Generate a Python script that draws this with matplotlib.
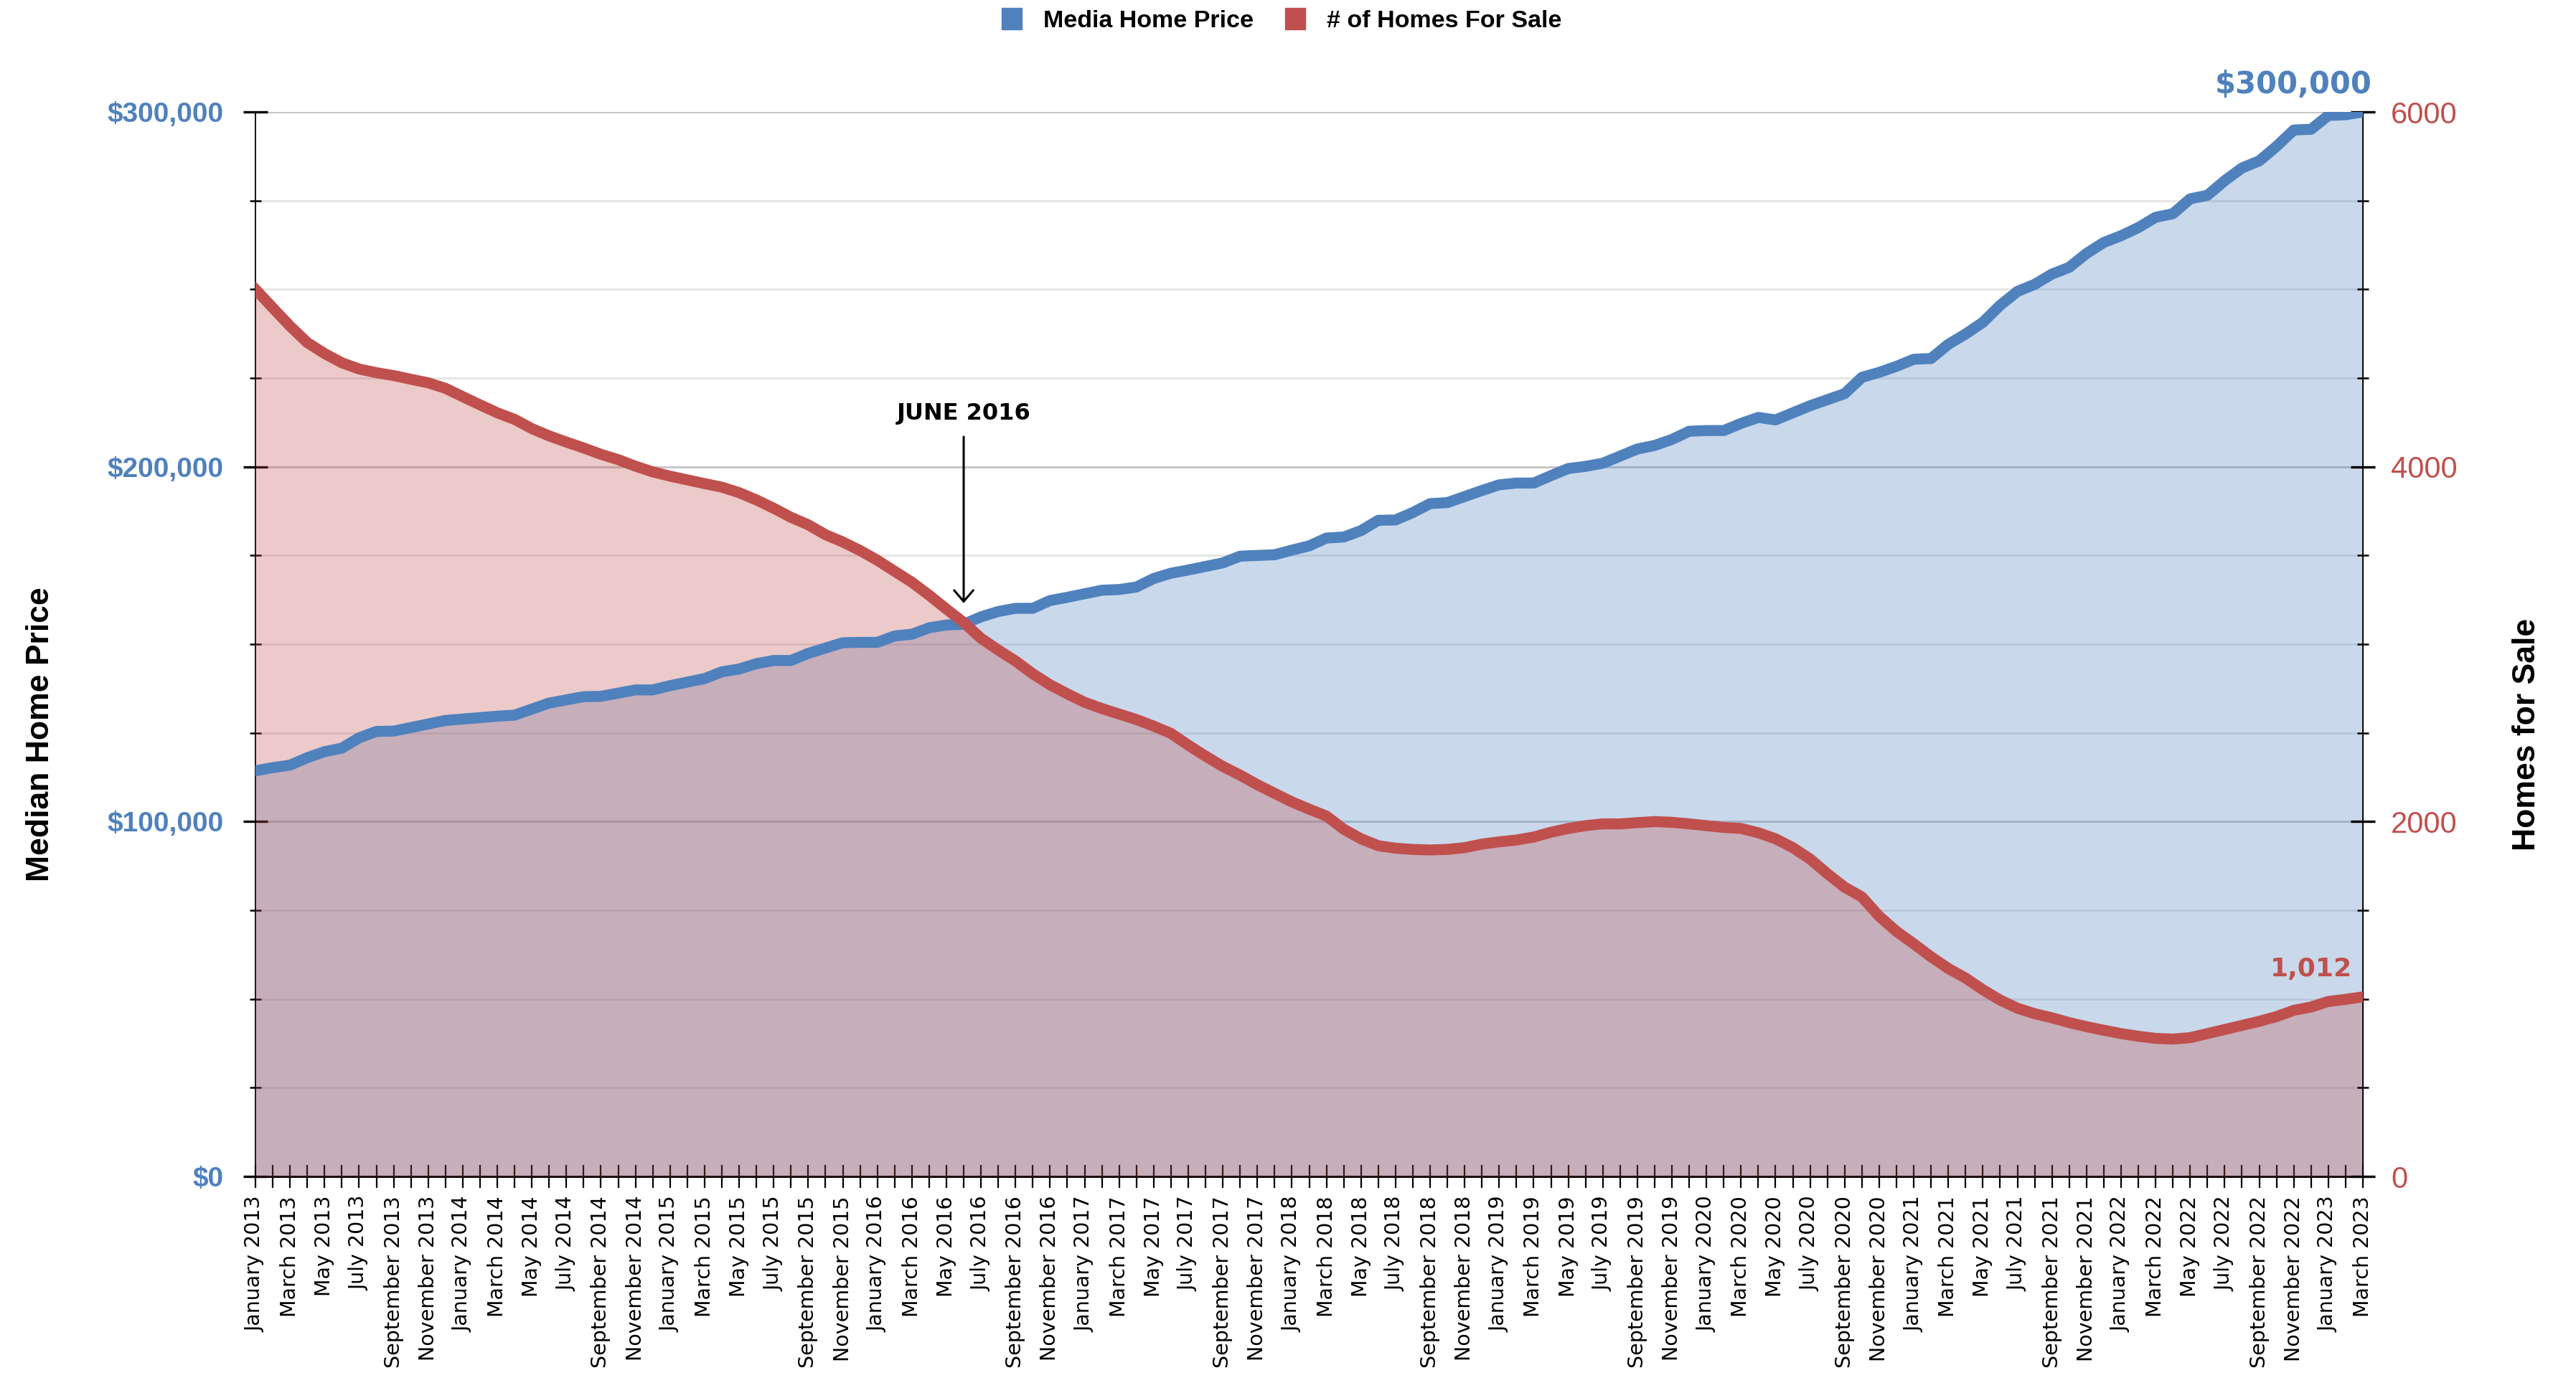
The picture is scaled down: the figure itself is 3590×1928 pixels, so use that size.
import numpy as np
import pandas as pd
import matplotlib
matplotlib.use('Agg')
import matplotlib.pyplot as plt
from matplotlib.patches import Patch
from matplotlib.ticker import MultipleLocator

# monthly data, January 2013 - March 2023
months = pd.date_range('2013-01-01', '2023-03-01', freq='MS')
month_labels = [d.strftime('%B %Y') for d in months]

price = [114300, 115200, 115900, 118000, 119700, 120700, 123600, 125400, 125500, 126500,
         127500, 128500, 128900, 129300, 129700, 130000, 131700, 133400, 134300, 135200,
         135300, 136200, 137100, 137100, 138300, 139300, 140300, 142200, 143000, 144500,
         145400, 145400,
         147400, 148900, 150400, 150500, 150500, 152300, 152800, 154600, 155400, 155600,
         157700, 159200, 160100, 160100, 162300, 163200, 164200, 165200, 165400, 166100,
         168500, 170000, 170900, 171900, 172900, 174800, 175000, 175200, 176500, 177700,
         179900, 180200, 182000, 184900, 185000, 187100, 189600, 189900, 191600, 193300,
         194900, 195400, 195400, 197500, 199500, 200100, 201000, 203000, 205000, 206000,
         207700, 210000, 210200, 210200, 212200, 213900, 213200, 215200, 217200, 218900,
         220600,
         225200, 226600, 228300, 230300, 230500, 234500, 237400, 240700, 245500, 249400,
         251400, 254300, 256200, 260100, 263200, 265100, 267400, 270300, 271300, 275500,
         276500, 280600, 284200, 286200, 290300, 294900, 295100, 299000, 299200, 300000]

homes = [5000, 4896, 4793, 4700, 4638, 4586, 4551, 4530, 4514, 4493,
         4473, 4442, 4395, 4349, 4304, 4267, 4215, 4174, 4139, 4106,
         4070, 4040, 4003, 3971, 3947, 3926, 3905, 3885, 3854, 3813,
         3766, 3715,
         3673, 3617, 3576, 3528, 3473, 3411, 3349, 3276, 3198, 3122,
         3033, 2967, 2905, 2833, 2771, 2720, 2672, 2637, 2606, 2575,
         2538, 2497, 2431, 2369, 2311, 2262, 2208, 2159, 2111, 2070,
         2031, 1957, 1903, 1864, 1850, 1843, 1840, 1843, 1853, 1873,
         1886, 1896, 1913, 1940, 1961, 1977, 1987, 1987, 1994, 2000,
         1996, 1987, 1977, 1967, 1961, 1937, 1903, 1853, 1789, 1706,
         1630,
         1575, 1466, 1381, 1311, 1238, 1172, 1118, 1052, 994, 948,
         917, 894, 867, 844, 824, 805, 790, 778, 774, 782,
         805, 828, 851, 874, 901, 936, 955, 986, 998, 1012]

price_ticks = [0, 100000, 200000, 300000]
price_tick_labels = ['$0', '$100,000', '$200,000', '$300,000']
homes_ticks = [0, 2000, 4000, 6000]
homes_tick_labels = ['0', '2000', '4000', '6000']

BLUE = '#4f81bd'
RED = '#c0504d'
W, H = 3591, 1928

fig = plt.figure(figsize=(W / 100, H / 100), dpi=100)
ax = fig.add_axes([356 / W, 1 - 1640 / H, (3293 - 356) / W, (1640 - 156) / H])
ax2 = ax.twinx()

x = np.arange(len(months))

# gridlines every 25k, darker on the 100k lines
for v in range(0, 300001, 25000):
    ax.axhline(v, color='#c8c8c8' if v % 100000 == 0 else '#e6e6e6', lw=2.2, zorder=0)

ax.fill_between(x, price, color=BLUE, alpha=0.3, lw=0, zorder=1)
ax2.fill_between(x, homes, color=RED, alpha=0.3, lw=0, zorder=1)
ax2.plot(x, price, color=BLUE, lw=11, transform=ax.transData, zorder=3)
ax2.plot(x, homes, color=RED, lw=11, zorder=4)

ax.set_xlim(0, len(x) - 1)
ax.set_ylim(0, 300000)
ax2.set_ylim(0, 6000)

ax.spines['top'].set_visible(False)
for s in ['top', 'left', 'bottom']:
    ax2.spines[s].set_visible(False)
ax.spines['left'].set_linewidth(1.3)
ax2.spines['right'].set_linewidth(1.3)
ax.spines['bottom'].set_linewidth(2.2)

# y axes
ax.set_yticks(price_ticks)
ax.set_yticklabels(price_tick_labels)
ax.yaxis.set_minor_locator(MultipleLocator(25000))
ax.tick_params(axis='y', which='major', direction='inout', length=24, width=2.4,
               pad=20, labelsize=28, labelcolor=BLUE)
ax.tick_params(axis='y', which='minor', direction='inout', length=11, width=1.8)
for lab in ax.get_yticklabels():
    lab.set_fontfamily('Liberation Sans')
    lab.set_fontweight('bold')

ax2.set_yticks(homes_ticks)
ax2.set_yticklabels(homes_tick_labels)
ax2.yaxis.set_minor_locator(MultipleLocator(500))
ax2.tick_params(axis='y', which='major', direction='inout', length=24, width=2.4,
                pad=16, labelsize=30, labelcolor=RED)
ax2.tick_params(axis='y', which='minor', direction='inout', length=11, width=1.8)
for lab in ax2.get_yticklabels():
    lab.set_fontfamily('Liberation Sans')

# x axis: tick every month, label every other month
ax.set_xticks(x)
ax.set_xticklabels([m if i % 2 == 0 else '' for i, m in enumerate(month_labels)],
                   rotation=90, fontsize=20.5, family='DejaVu Sans')
ax.tick_params(axis='x', direction='inout', length=23, width=1.6, pad=8)

# annotations
ax2.annotate('${:,}'.format(price[-1]), xy=(x[-1], price[-1]), xycoords=ax.transData,
             xytext=(9, 27), textcoords='offset points', ha='right', va='center',
             fontsize=30, fontweight='bold', color=BLUE, annotation_clip=False)
ax2.annotate('{:,}'.format(homes[-1]), xy=(x[-1], homes[-1]),
             xytext=(-11, 28), textcoords='offset points', ha='right', va='center',
             fontsize=26, fontweight='bold', color=RED, annotation_clip=False)

june = month_labels.index('June 2016')
ax.text(june, 215000, 'JUNE 2016', ha='center', va='center', fontsize=23,
        fontweight='bold', color='black', zorder=5)
ax.annotate('', xy=(june, 161000), xytext=(june, 209000),
            arrowprops=dict(arrowstyle='->,head_length=0.35,head_width=0.3',
                            color='black', lw=2.2, mutation_scale=32))

fig.text(57 / W, 1 - 1024 / H, 'Median Home Price', rotation=90, ha='center', va='center',
         fontsize=32, fontweight='bold', family='Liberation Sans')
fig.text(3522 / W, 1 - 1024 / H, 'Homes for Sale', rotation=90, ha='center', va='center',
         fontsize=32, fontweight='bold', family='Liberation Sans')

handles = [Patch(facecolor=BLUE, edgecolor=BLUE), Patch(facecolor=RED, edgecolor=RED)]
fig.legend(handles, ['Media Home Price', '# of Homes For Sale'], loc='center',
           bbox_to_anchor=(0.4975, 1 - 28 / H), ncol=2, frameon=False,
           prop={'family': 'Liberation Sans', 'weight': 'bold', 'size': 24.5},
           handlelength=0.8, handleheight=0.95, handletextpad=0.9, columnspacing=1.3)

fig.savefig('out.png', dpi=100)
